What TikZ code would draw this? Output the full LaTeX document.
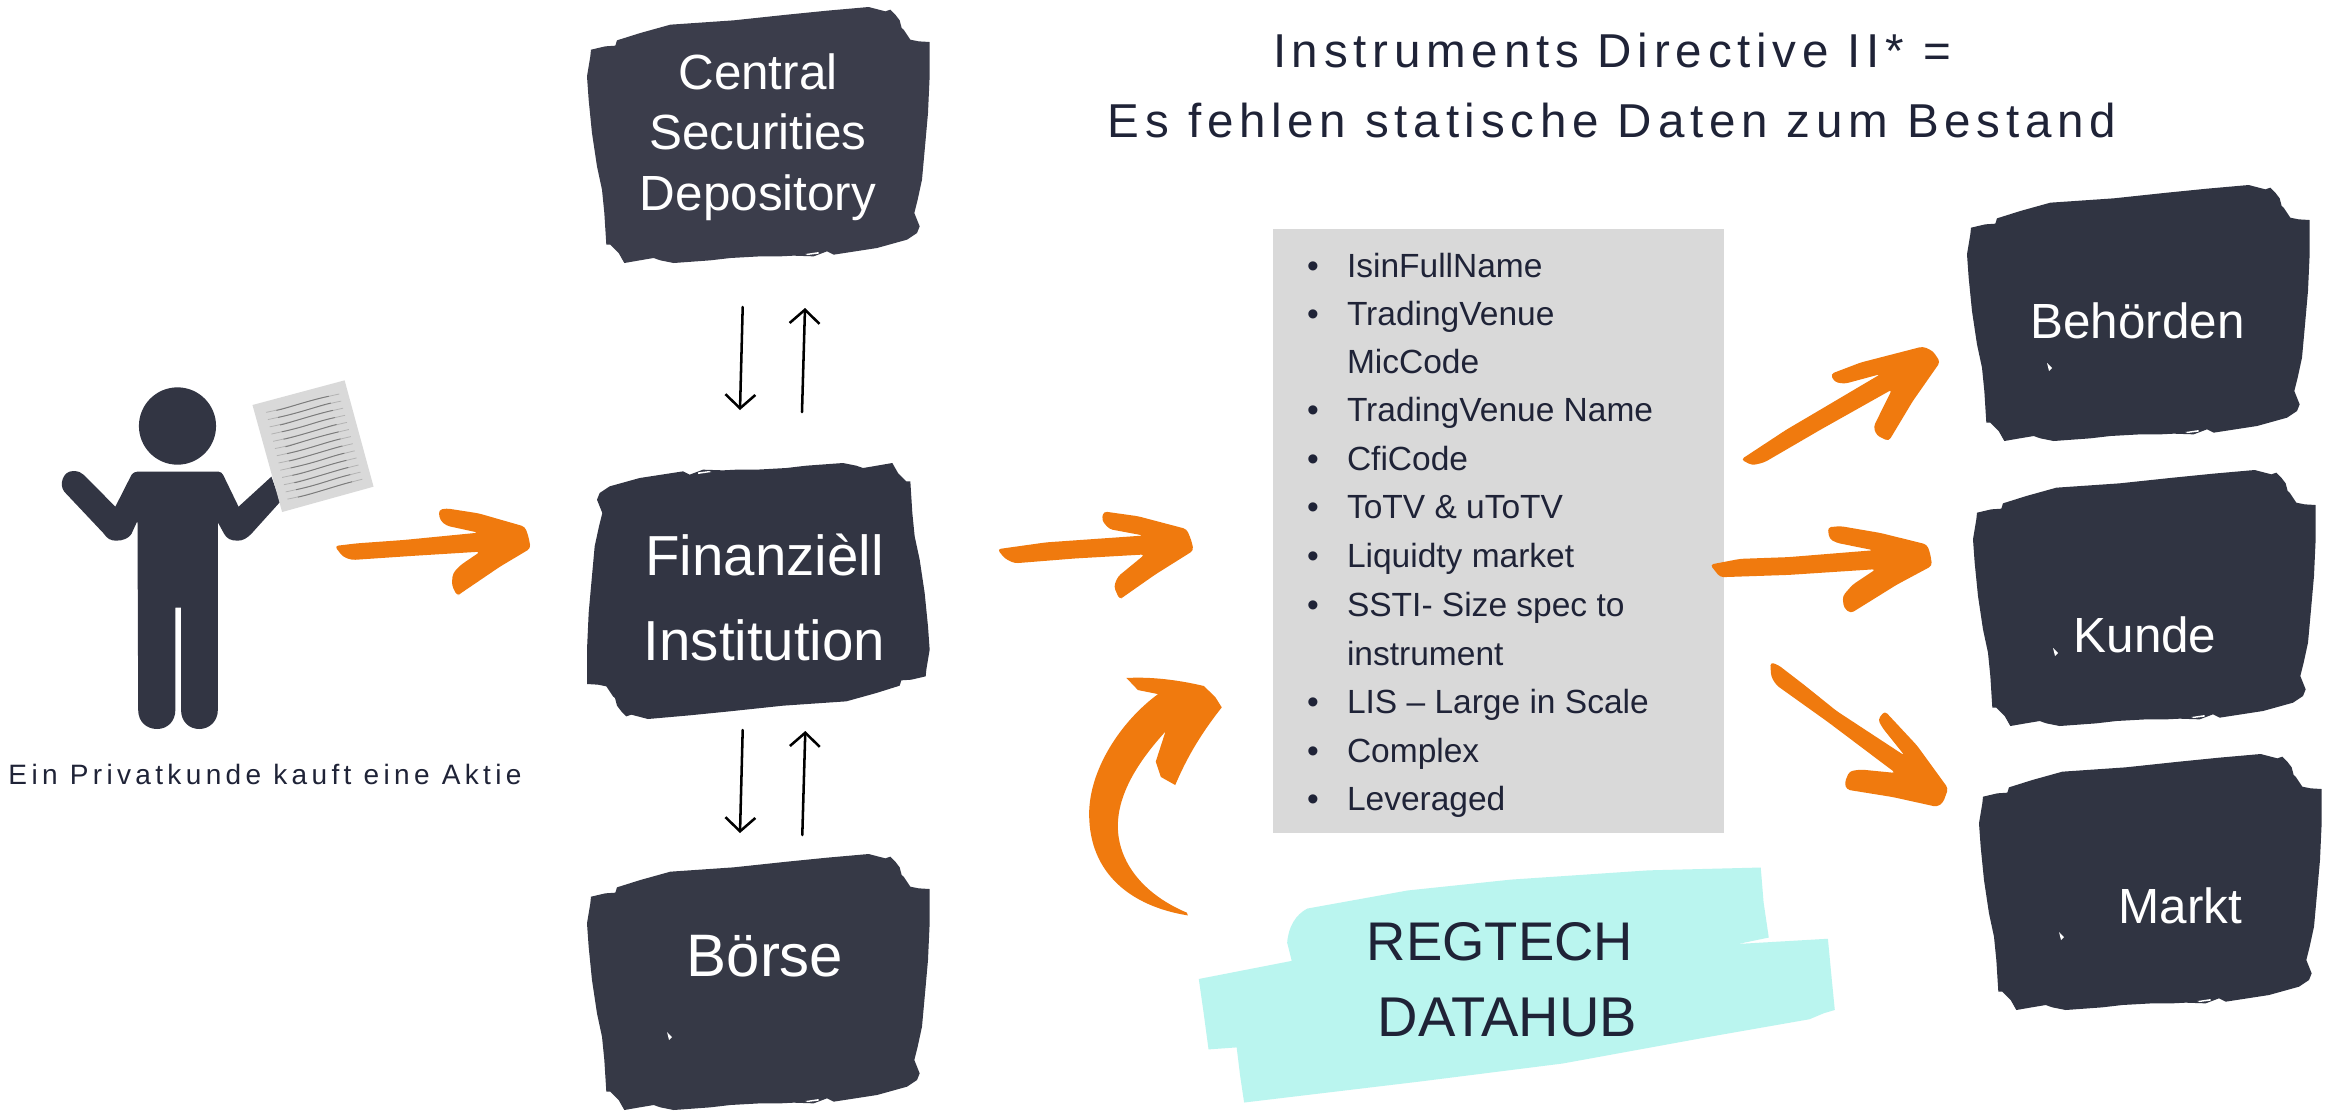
\documentclass[tikz,border=0pt]{standalone}
\usepackage{fontspec}
\setmainfont{Liberation Sans}
\usetikzlibrary{arrows.meta}
\definecolor{inkA}{HTML}{3B3D4B}
\definecolor{inkB}{HTML}{363946}
\definecolor{inkC}{HTML}{323543}
\definecolor{inkD}{HTML}{303442}
\definecolor{txtdark}{HTML}{1F2337}
\definecolor{brush}{HTML}{F07A0E}
\definecolor{paper}{HTML}{D9D9D9}
\definecolor{mint}{HTML}{BAF5EF}
\newcommand\blobpath{(92,150)--(135,140)--(165,138)--(170,122)--(240,100)--(330,75)--(520,62)--(680,45)--(800,33)--(925,22)--(975,35)--(990,30)--(1005,45)--(1018,62)--(1024,85)--(1030,90)--(1050,120)--(1075,125)--(1108,127)--(1108,230)--(1103,340)--(1095,430)--(1085,540)--(1072,600)--(1062,640)--(1078,680)--(1070,700)--(1040,720)--(950,745)--(820,765)--(800,755)--(760,770)--(700,768)--(660,770)--(600,770)--(510,775)--(450,782)--(340,790)--(300,782)--(280,775)--(250,780)--(192,790)--(175,760)--(150,735)--(138,735)--(132,640)--(125,570)--(110,500)--(95,400)--(85,300)--(80,230)--(90,170)--cycle}
\newcommand\blobslit{(735,763)--(775,757)--(775,762)--(742,766)--cycle}
% top-left corner of the blob is given
\newcommand\blobat[3]{%
  \fill[#3,shift={(#1-26.67,#2-7.33)},scale=1/3] \blobpath;
  \fill[white,shift={(#1-26.67,#2-7.33)},scale=1/3] \blobslit;}
\newcommand\blobflip[3]{%
  \fill[#3,shift={(#1+369.33,#2+263.33)},scale=-1/3] \blobpath;
  \fill[white,shift={(#1+369.33,#2+263.33)},scale=-1/3] \blobslit;}
\newcommand\speckat[2]{\fill[white,shift={(#1,#2)}] (80,178)--(85,183)--(82,186)--cycle;}
\tikzset{
  x=0.01cm,y=-0.01cm,
  boxlabel/.style={text=white,inner sep=0pt,outer sep=0pt,align=center},
  blabA/.style={boxlabel,font=\fontsize{14.05}{17.07}\selectfont},
  blabB/.style={boxlabel,font=\fontsize{16.05}{24.1}\selectfont},
  blabC/.style={boxlabel,font=\fontsize{17.05}{20}\selectfont},
  blabD/.style={boxlabel,font=\fontsize{14.05}{17}\selectfont},
  listtext/.style={text=txtdark,inner sep=0pt,outer sep=0pt,anchor=base west,align=left,font=\fontsize{9.53}{13.83}\selectfont},
  listdot/.style={text=txtdark,inner sep=0pt,outer sep=0pt,anchor=base,font=\fontsize{9.53}{13.83}\selectfont},
  titletext/.style={text=txtdark,inner sep=0pt,outer sep=0pt,anchor=base,font=\fontsize{13.52}{19.86}\selectfont\addfontfeature{LetterSpace=12.1}},
  captext/.style={text=txtdark,inner sep=0pt,outer sep=0pt,anchor=base,font=\fontsize{7.97}{10}\selectfont\addfontfeature{LetterSpace=15.5}},
  hubtextA/.style={text=txtdark,inner sep=0pt,outer sep=0pt,anchor=base,font=\fontsize{15.48}{20}\selectfont},
  hubtextB/.style={text=txtdark,inner sep=0pt,outer sep=0pt,anchor=base,font=\fontsize{15.93}{20}\selectfont},
  brushfill/.style={fill=brush,rounded corners=1pt},
  penarrow/.style={line width=0.72pt,line cap=round,-{Straight Barb[length=3.9pt,width=8.5pt,line width=0.72pt]}},
}
\begin{document}
\begin{tikzpicture}
\useasboundingbox (0,0) rectangle (2329,1111);
\fill[white] (0,0) rectangle (2329,1111);

% boxes
\blobat{587}{7}{inkA}
\blobflip{587}{463}{inkC}
\blobat{587}{854}{inkB}
\blobat{1967}{185}{inkD}
\blobat{1973}{470}{inkD}
\blobat{1979}{754}{inkD}
\speckat{587}{854}
\speckat{1967}{185}
\speckat{1973}{470}
\speckat{1979}{754}

\node[blabA,anchor=base] (csd) at (758,210) {Central\\Securities\\Depository};
\node[blabB,anchor=base] (fin) at (764.5,660.7) {Finanzièll\\Institution};
\node[blabC,anchor=base] (boerse) at (765,976.7) {Börse};
\node[blabD,anchor=base] (beh) at (2137.5,338) {Behörden};
\node[blabD,anchor=base] (kunde) at (2145,652) {Kunde};
\node[blabD,anchor=base] (markt) at (2180.5,923) {Markt};

% thin pen arrows
\coordinate (a1s) at (742.7,307); \coordinate (a1e) at (740,410);
\coordinate (a2s) at (802,412);   \coordinate (a2e) at (805,308);
\coordinate (a3s) at (742.7,730); \coordinate (a3e) at (740,833);
\coordinate (a4s) at (802.3,835); \coordinate (a4e) at (805.3,731);
\draw[penarrow] (a1s) -- (a1e);
\draw[penarrow] (a2s) -- (a2e);
\draw[penarrow] (a3s) -- (a3e);
\draw[penarrow] (a4s) -- (a4e);

% person and sheet
\begin{scope}[shift={(0,350)},xscale=1/2.8,yscale=1/3]
  \fill[inkC] (497,228) ellipse [x radius=108,y radius=116];
  \fill[inkC] (385,365)--(612,365) to[out=0,in=120] (625,375)--(668,470)--(760,380)--(785,455)--(705,550) .. controls (690,566) and (680,572) .. (665,572) .. controls (645,572) and (635,565) .. (628,552)--(610,517)--(610,1080) .. controls (610,1115) and (585,1137) .. (558,1137) .. controls (530,1137) and (507,1115) .. (507,1080)--(507,773)--(491,773)--(491,1080) .. controls (491,1115) and (468,1137) .. (440,1137) .. controls (410,1137) and (387,1115) .. (387,1080)--(385,512)--(368,552) .. controls (360,565) and (345,572) .. (325,572) .. controls (310,572) and (300,566) .. (290,550)--(180,425) .. controls (165,405) and (175,363) .. (205,363) .. controls (220,363) and (228,368) .. (235,375)--(323,470)--(368,375) .. controls (372,368) and (378,365) .. (385,365)--cycle;
  \fill[paper] (707,165)--(965,91)--(1046,410)--(790,486)--cycle;
  \foreach \t/\ca/\cb [evaluate=\t as \sx using 745+5*\t, evaluate=\t as \sy using 187+21.7*\t,
               evaluate=\t as \ex using 950+5.4*\t, evaluate=\t as \ey using 132+21.3*\t]
     in {0/60/110,1/90/150,2/50/130,3/100/120,4/70/160,5/45/105,6/85/140,7/60/155,8/110/135,9/75/120,10/55/150,11/95/125,12/65/140} {
    \draw[line width=0.22pt,black!30] (\sx,\sy) .. controls ({\sx+\ca},{\sy-0.268*\ca+4}) and ({\sx+\cb},{\sy-0.268*\cb-4}) .. (\ex,\ey);
    \draw[line width=0.25pt,black!52,shorten <=3pt,shorten >=3pt] (\sx,\sy) .. controls ({\sx+\ca},{\sy-0.268*\ca+4}) and ({\sx+\cb},{\sy-0.268*\cb-4}) .. (\ex,\ey);
  }
\end{scope}
\node[captext] (cap) at (265,784) {Ein Privatkunde kauft eine Aktie};

% orange arrow person -> institution
\begin{scope}[shift={(0,350)},xscale=1/2.8,yscale=1/3]
  \fill[brushfill] (937,588)--(1000,580)--(1130,570)--(1340,548)--(1250,527)--(1232,510)--(1228,480)--(1250,475)--(1340,490)--(1470,530)--(1480,560)--(1486,595)--(1400,650)--(1290,730)--(1280,738)--(1265,705)--(1268,670)--(1290,645)--(1345,605)--(1150,618)--(985,630)--(960,620)--cycle;
\end{scope}

% list box
\fill[paper] (1273,229) rectangle (1724,833);
\foreach \n/\yy in {0/277.3,1/325,3/421.7,4/470.7,5/518.3,6/567.3,7/616,9/713.4,10/762.5,11/810.8}
  \node[listdot] (dot\n) at (1313,\yy) {•};
\node[listtext] (l0) at (1347,277.3) {IsinFullName};
\node[listtext] (l1) at (1347,325) {TradingVenue};
\node[listtext] (l2) at (1347,373.3) {MicCode};
\node[listtext] (l3) at (1347,421.7) {TradingVenue Name};
\node[listtext] (l4) at (1347,470.7) {CfiCode};
\node[listtext] (l5) at (1347,518.3) {ToTV \& uToTV};
\node[listtext] (l6) at (1347,567.3) {Liquidty market};
\node[listtext] (l7) at (1347,616) {SSTI- Size spec to};
\node[listtext] (l8) at (1347,665) {instrument};
\node[listtext] (l9) at (1347,713.4) {LIS – Large in Scale};
\node[listtext] (l10) at (1347,762.5) {Complex};
\node[listtext] (l11) at (1347,810.8) {Leveraged};

% title
\node[titletext] (t1) at (1612,67.4) {Instruments Directive II* =};
\node[titletext] (t2) at (1612,137) {Es fehlen statische Daten zum Bestand};

% mint brush and arrows
\begin{scope}[shift={(960,480)},xscale=1/1.742,yscale=1/2.485]
  \fill[mint] (578,1195)--(570,1150) .. controls (572,1110) and (585,1080) .. (605,1065)--(780,1020)--(960,993)--(1200,970)--(1395,963)--(1400,1050)--(1409,1137)--(1355,1153)--(1512,1140)--(1518,1230)--(1524,1317)--(1505,1325)--(1480,1340)--(1300,1385)--(1050,1450)--(800,1495)--(495,1547)--(488,1480)--(482,1410)--(433,1415)--(425,1330)--(416,1240)--cycle;
  \fill[brushfill] (65,172)--(150,155)--(320,138)--(260,122)--(247,100)--(250,78)--(310,90)--(395,122)--(403,150)--(407,175)--(340,235)--(285,290)--(278,297)--(268,265)--(275,240)--(322,185)--(200,195)--(95,207)--(78,195)--cycle;
  \fill[brush] (397,1082) .. controls (300,1060) and (225,980) .. (225,830) .. controls (225,720) and (280,600) .. (345,532)--(310,522)--(290,492) .. controls (340,488) and (390,500) .. (425,512)--(445,540)--(456,565) .. controls (420,630) and (395,690) .. (375,758)--(350,738)--(341,700)--(358,625) .. controls (310,700) and (275,780) .. (275,860) .. controls (275,950) and (320,1030) .. (395,1075)--cycle;
\end{scope}
\node[hubtextA] (hub1) at (1500,960) {REGTECH};
\node[hubtextB] (hub2) at (1507.5,1036.5) {DATAHUB};

\begin{scope}[shift={(1700,180)},xscale=1/2.49,yscale=1/1.742]
  \fill[brushfill] (102,487)--(215,435)--(300,400)--(450,338)--(360,355)--(335,352)--(325,338)--(400,318)--(555,290)--(580,298)--(598,317)--(530,385)--(470,455)--(440,445)--(432,430)--(478,365)--(300,435)--(160,492)--(130,497)--cycle;
  \fill[brushfill] (25,670)--(100,660)--(220,657)--(432,645)--(340,632)--(322,625)--(318,605)--(350,603)--(450,615)--(565,635)--(573,650)--(578,672)--(490,705)--(375,755)--(358,745)--(355,725)--(380,705)--(438,678)--(220,688)--(50,692)--cycle;
  \fill[brushfill] (175,840)--(195,845)--(260,880)--(340,925)--(510,1003)--(455,955)--(443,940)--(460,925)--(540,985)--(618,1060)--(605,1085)--(590,1092)--(480,1075)--(365,1062)--(360,1050)--(372,1030)--(400,1027)--(487,1033)--(320,945)--(190,880)--(177,865)--cycle;
\end{scope}
\end{tikzpicture}
\end{document}
